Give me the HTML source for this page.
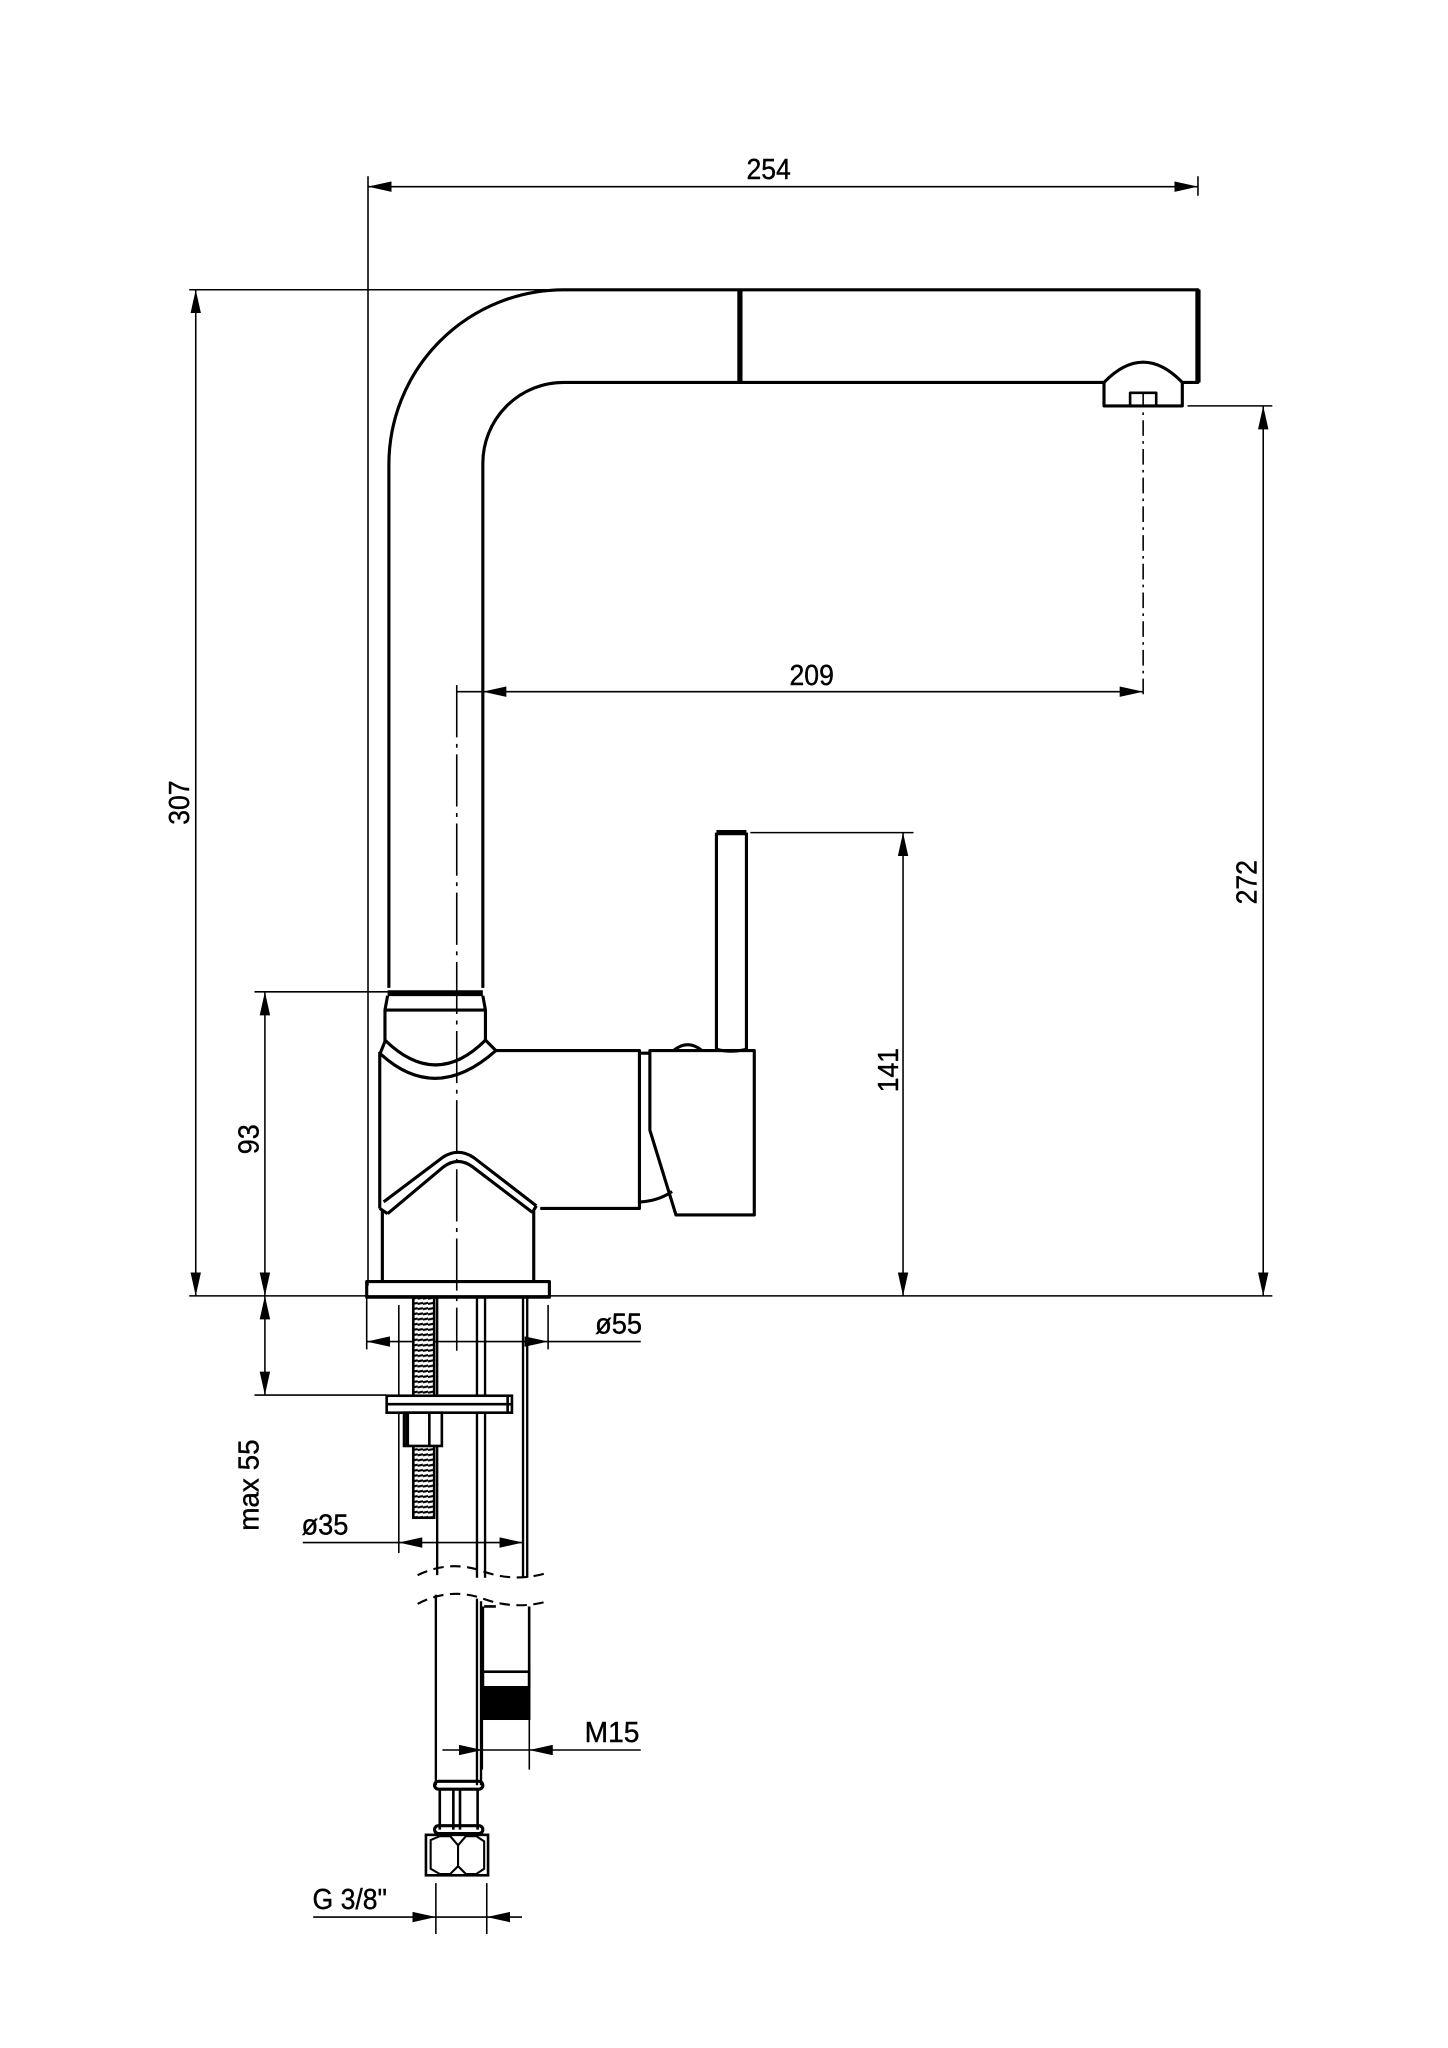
<!DOCTYPE html>
<html><head><meta charset="utf-8"><style>html,body{margin:0;padding:0;background:#fff}svg{display:block}</style></head>
<body>
<svg width="1448" height="2048" viewBox="0 0 1109.6 1569.3" xmlns="http://www.w3.org/2000/svg">
<defs>
<marker id="a" viewBox="0 0 18 8" refX="18" refY="4" markerUnits="userSpaceOnUse" markerWidth="18" markerHeight="8" orient="auto-start-reverse"><path d="M0,0 L18,4 L0,8 z" fill="#000"/></marker>
<pattern id="th" width="4" height="4" patternUnits="userSpaceOnUse"><rect width="4" height="4" fill="#fff"/><path d="M0,3.2 L16,0" stroke="#000" stroke-width="1.6"/></pattern>
</defs>
<g fill="none" stroke="#000" stroke-width="1.2" font-family="'Liberation Sans Narrow','Liberation Sans',sans-serif">
<path d="M282,135 V985 M918,135 V150 M145,222 H432 M910,311 H975 M575,638 H700 M195,760 H298 M145,993 H975 M195,1069 H296"/>
<path d="M282,143 H918" marker-start="url(#a)" marker-end="url(#a)"/>
<path d="M150,222 V993" marker-start="url(#a)" marker-end="url(#a)"/>
<path d="M203,760 V993" marker-start="url(#a)" marker-end="url(#a)"/>
<path d="M968,311 V993" marker-start="url(#a)" marker-end="url(#a)"/>
<path d="M692,638 V993" marker-start="url(#a)" marker-end="url(#a)"/>
<path d="M370,530 H876" marker-start="url(#a)" marker-end="url(#a)"/>
<path d="M350,530 H370"/>
<path d="M203,993 V1069" marker-start="url(#a)" marker-end="url(#a)"/>
<path d="M876,300 V533" stroke-dasharray="12,4,2,4"/>
<path d="M350,525 V1035" stroke-dasharray="40,5,3,5"/>
<path d="M281,995 V1034 M420,1000 V1034"/>
<path d="M281,1028 H420" marker-start="url(#a)" marker-end="url(#a)"/>
<path d="M420,1028 H491"/>
<path d="M305.6,1000 V1190 M400.8,1000 V1190"/>
<path d="M305.6,1182 H400.8" marker-start="url(#a)" marker-end="url(#a)"/>
<path d="M232,1182 H305.6"/>
<path d="M369.6,1317 V1356 M405.6,1317 V1356"/>
<path d="M339,1341 H369.6" marker-end="url(#a)"/>
<path d="M491,1341 H405.6" marker-end="url(#a)"/>
<path d="M369.6,1341 H405.6"/>
<path d="M334,1443 V1482 M373,1443 V1482"/>
<path d="M240,1469 H334" marker-end="url(#a)"/>
<path d="M400,1469 H373" marker-end="url(#a)"/>
<path d="M334,1469 H373"/>
</g>
<g fill="#000" font-family="'Liberation Sans Narrow','Liberation Sans',sans-serif" font-size="22" stroke="#000" stroke-width="0.3">
<text x="589" y="137" text-anchor="middle" textLength="34" lengthAdjust="spacingAndGlyphs">254</text>
<text x="622" y="525" text-anchor="middle" textLength="34" lengthAdjust="spacingAndGlyphs">209</text>
<text transform="translate(145,615) rotate(-90)" text-anchor="middle" textLength="34" lengthAdjust="spacingAndGlyphs">307</text>
<text transform="translate(198,873) rotate(-90)" text-anchor="middle" textLength="23" lengthAdjust="spacingAndGlyphs">93</text>
<text transform="translate(688,820) rotate(-90)" text-anchor="middle" textLength="34" lengthAdjust="spacingAndGlyphs">141</text>
<text transform="translate(963,676) rotate(-90)" text-anchor="middle" textLength="34" lengthAdjust="spacingAndGlyphs">272</text>
<text transform="translate(198,1138) rotate(-90)" text-anchor="middle" textLength="70" lengthAdjust="spacingAndGlyphs">max 55</text>
<text x="474" y="1022" text-anchor="middle" textLength="36" lengthAdjust="spacingAndGlyphs">ø55</text>
<text x="249" y="1176" text-anchor="middle" textLength="36" lengthAdjust="spacingAndGlyphs">ø35</text>
<text x="469" y="1335" text-anchor="middle" textLength="42" lengthAdjust="spacingAndGlyphs">M15</text>
<text x="268" y="1463" text-anchor="middle" textLength="57" lengthAdjust="spacingAndGlyphs">G 3/8"</text>
</g>
<g fill="none" stroke="#000" stroke-width="2.4" stroke-linejoin="round">
<path d="M298,757 V356 A134,134 0 0 1 432,222 H918 V293 H906"/>
<path d="M918,222 V293" stroke-width="4"/>
<path d="M370,757 V355 A62,62 0 0 1 432,293 H846"/>
<path d="M567,222 V293" stroke-width="4"/>
<path d="M846,293 V311 H906 V293 M846,293 Q876,262 906,293"/>
<rect x="866" y="301" width="20" height="10" stroke-width="2"/>
<path d="M297,761 H370" stroke-width="4.5"/>
<path d="M297,763 L295,774 V798 M370,763 L372,774 V798 M296,774 H371"/>
<path d="M295,797 Q334,835 372,797"/>
<path d="M291,808 L295,798 M372,797 L380,805 M292,808 Q334,846 380,805"/>
<path d="M291,806 V926 M380,805 H490 V926 H414"/>
<path d="M294,921 L339,887 Q351,879 363,887 L411,924"/>
<path d="M297,930 L340,894 Q351,886 362,894 L408,929"/>
<path d="M291,926 L297,930 M411,924 L408,929"/>
<path d="M293,928 V982 M409,928 V982"/>
<rect x="281" y="982" width="140" height="12"/>
<path d="M490,807 H498 M491,921 Q505,920 515,913"/>
<path d="M498,805 H578 V931 H518 L498,866 Z"/>
<path d="M516,805 Q527,796 538,805"/>
<path d="M549,804 V638 M572,804 V638 M549,804 Q560,807 572,804"/>
<path d="M549,638 H572" stroke-width="4"/>
</g>
<g fill="none" stroke="#000" stroke-width="2">
<rect x="316.7" y="994" width="16" height="169" fill="url(#th)"/>
<path d="M335,994 V1207 M365.5,994 V1209 M371.7,994 V1209 M400.8,994 V1209 M404,994 V1209" stroke-width="1.8"/>
<rect x="296.3" y="1069.5" width="96" height="13" fill="#fff"/>
<path d="M296.3,1076 H392 M389,1069.5 V1082.5"/>
<rect x="309.6" y="1082.5" width="29" height="25.5" fill="#fff"/>
<path d="M329,1082.5 V1108"/>
<path d="M312,1082.5 V1108" stroke-width="3"/>
<path d="M320,1207 Q345,1195 370,1204 T420,1205" stroke-dasharray="8,5" stroke-width="1.6"/>
<path d="M320,1229 Q345,1216 370,1225 T420,1227" stroke-dasharray="8,5" stroke-width="1.6"/>
<path d="M334,1222 V1368 M365.5,1225 V1368 M368.6,1227 V1368" stroke-width="1.8"/>
<path d="M370,1231 V1293 M405.5,1231 V1293 M371,1231 H380"/>
<rect x="370" y="1281" width="35.5" height="12"/>
<rect x="370" y="1293" width="35.5" height="24" fill="#000"/>
<rect x="333" y="1365" width="37" height="6" rx="3" stroke-width="2.4"/>
<path d="M337,1371 V1402 M366,1371 V1402 M347.4,1371 V1402 M352.5,1371 V1402"/>
<rect x="333" y="1399" width="37" height="6" rx="3" stroke-width="2.4"/>
<rect x="326.4" y="1406" width="47.6" height="31"/>
<path d="M330,1410 L337,1407 L345,1407 L351,1414 V1430 L345,1436 L337,1436 L330,1432 Z M351,1414 L357,1407 L365,1407 L371,1411 V1432 L365,1436 L357,1436 L351,1430" stroke-width="1.6"/>
</g>
</svg>
</body></html>
